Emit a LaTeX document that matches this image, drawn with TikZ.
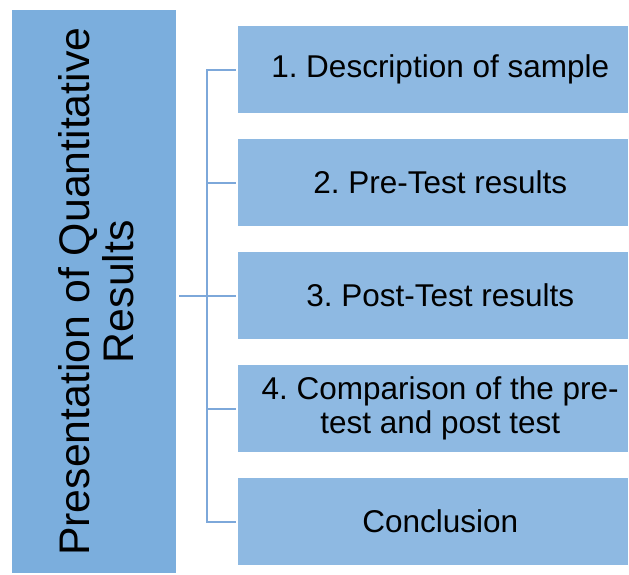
\documentclass[tikz,border=0pt]{standalone}
\usepackage{fontspec}
\setmainfont{Liberation Sans}
\frenchspacing
\definecolor{mainblue}{RGB}{123,174,221}
\definecolor{itemblue}{RGB}{142,185,226}
\definecolor{linkblue}{RGB}{125,168,218}
\begin{document}
\begin{tikzpicture}[x=1pt,y=-1pt,
  headbox/.style={draw=none, fill=mainblue, minimum width=164pt, minimum height=563pt,
    inner sep=0pt, anchor=north west},
  itembox/.style={draw=none, fill=itemblue, minimum width=390pt, minimum height=87pt,
    inner sep=0pt, anchor=north west},
  itemtext/.style={align=center, inner sep=0pt, font=\fontsize{31.5}{34}\selectfont},
  link/.style={draw=linkblue, line width=2pt}]
\useasboundingbox (0,0) rectangle (629,574);
% heading column
\node[headbox] (head) at (12,10) {};
\node[rotate=90, align=center, font=\fontsize{42.8}{44}\selectfont] (headtxt)
  at ([xshift=2.5pt]head.center) {Presentation of Quantitative\\Results};
% item boxes
\node[itembox] (b1) at (238,26)  {};
\node[itembox] (b2) at (238,139) {};
\node[itembox] (b3) at (238,252) {};
\node[itembox] (b4) at (238,365) {};
\node[itembox] (b5) at (238,478) {};
\node[itemtext] (t1) at ([xshift=7pt]b1.center) {1. Description of sample};
\node[itemtext] (t2) at ([xshift=7pt]b2.center) {2. Pre-Test results};
\node[itemtext] (t3) at ([xshift=7pt]b3.center) {3. Post-Test results};
\node[itemtext] (t4) at ([xshift=7pt]b4.center) {4. Comparison of the pre-\\test and post test};
\node[itemtext] (t5) at ([xshift=7pt]b5.center) {Conclusion};
% bracket connectors
\coordinate (trunk) at (207,0);
\draw[link] ([xshift=-2pt]b1.west) -- (trunk |- b1.west) -- (trunk |- b5.west) -- ([xshift=-2pt]b5.west);
\foreach \b in {b2,b3,b4}
  \draw[link] (trunk |- \b.west) -- ([xshift=-2pt]\b.west);
\draw[link] ([xshift=3pt]head.east |- b3.west) -- (trunk |- b3.west);
\end{tikzpicture}
\end{document}
